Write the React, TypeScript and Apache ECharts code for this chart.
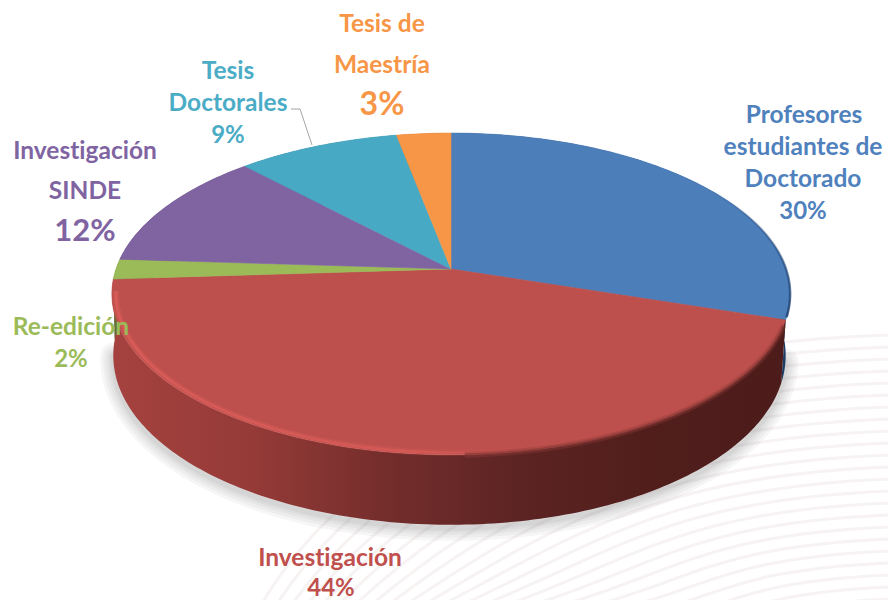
import React, { useEffect, useRef } from "react";
import * as echarts from "echarts";

const sliceNames = ["Profesores estudiantes de Doctorado", "Investigación", "Re-edición", "Investigación SINDE", "Tesis Doctorales", "Tesis de Maestría"];
const sliceValues = [30, 44, 2, 12, 9, 3];
const topColors = ["#4c7eba", "#bd4f4c", "#9bbb59", "#8064a2", "#48a9c5", "#f79646"];
const textColors = ["#4f81bd", "#c0504d", "#9bbb59", "#8064a2", "#4bacc6", "#f79646"];
const sideColors = ["#1d3d66", "#5a2120", "#5e7335", "#4d3c62", "#2d687a", "#96591f"];

// label lines and their look (centre x, middle y, size), one list per slice
const labelLayout = [
  [["Profesores", 804, 113, 24.5], ["estudiantes de", 803, 145, 24.5], ["Doctorado", 803, 177, 24.5], ["30%", 803, 209, 24]],
  [["Investigación", 330, 556, 24.5], ["44%", 331, 586, 24]],
  [["Re-edición", 71, 325, 24.5], ["2%", 71, 357, 24]],
  [["Investigación", 85, 149, 24.5], ["SINDE", 85, 189, 24.5], ["12%", 85, 229, 31]],
  [["Tesis", 228, 69, 24.5], ["Doctorales", 228, 101, 24.5], ["9%", 228, 133, 24]],
  [["Tesis de", 382, 22, 24.5], ["Maestría", 382, 63, 24.5], ["3%", 382, 102, 32]],
];

const total = sliceValues.reduce((a, b) => a + b, 0);
let running = 0;
const sliceRows = sliceValues.map((v) => {
  const row = [running, running + v];
  running += v;
  return row;
});

const CX = 451, CY = 269, AX = 335, AY = 157, P = 0.155;
const rimPoint = (deg: number, drop = false, inset = 0): number[] => {
  const t = (deg * Math.PI) / 180;
  const u = Math.sin(t), v = Math.cos(t);
  const w = 1 + P * v;
  const k = 1 - inset;
  const x = CX + (AX * k * u) / w;
  const y = CY - (AY * k * v) / w;
  if (!drop) return [x, y];
  const squeeze = x > CX ? 0.987 : 0.996;
  return [CX + (x - CX) * squeeze, y + (v < 0 ? 60 - 10 * v : 60)];
};
const arc = (a: number, b: number, drop = false, inset = 0) => {
  const pts: number[][] = [];
  const n = Math.max(2, Math.ceil(Math.abs(b - a)));
  for (let i = 0; i <= n; i++) pts.push(rimPoint(a + ((b - a) * i) / n, drop, inset));
  return pts;
};
const toDeg = (x: number) => (x / total) * 360;

const renderShadow = () => ({
  type: "group",
  children: [26, 20, 14, 9, 5].map((lw) => ({
    type: "polyline",
    shape: { points: arc(100, 262, true).map((p) => [p[0], p[1] + 3]) },
    style: { fill: "none", stroke: "rgba(90,90,90,0.055)", lineWidth: lw, lineCap: "round" },
  })),
});

const renderSide = (params: any, api: any) => {
  const a = toDeg(api.value(0)), b = toDeg(api.value(1));
  const i = params.dataIndex;
  const fill =
    i === 1
      ? new echarts.graphic.LinearGradient(0, 0, 1, 0, [
          { offset: 0, color: "#a5423f" },
          { offset: 0.2, color: "#963b38" },
          { offset: 0.4, color: "#752e2c" },
          { offset: 0.6, color: "#5c2423" },
          { offset: 0.8, color: "#511e1c" },
          { offset: 1, color: "#4c1c1a" },
        ])
      : sideColors[i];
  return {
    type: "polygon",
    shape: { points: [...arc(a, b), ...arc(b, a, true)] },
    style: { fill },
  };
};

const renderTop = (params: any, api: any) => {
  const a = toDeg(api.value(0)), b = toDeg(api.value(1));
  const i = params.dataIndex;
  return {
    type: "polygon",
    shape: { points: [[CX, CY], ...arc(a, b)] },
    style: { fill: topColors[i], stroke: topColors[i], lineWidth: 0.6 },
  };
};

const softLine = (points: number[][], stroke: any, lineWidth: number) => ({
  type: "polyline",
  shape: { points },
  style: { fill: "none", lineWidth, stroke },
});

const renderRim = (params: any) => {
  if (params.dataIndex === 0) {
    const fade = (alpha: number) =>
      new echarts.graphic.LinearGradient(0, 0, 1, 0, [
        { offset: 0, color: `rgba(226,96,92,${alpha})` },
        { offset: 0.75, color: `rgba(226,96,92,${alpha * 0.8})` },
        { offset: 1, color: "rgba(226,96,92,0)" },
      ]);
    return {
      type: "group",
      children: [
        softLine(arc(262, 170, false, 0.012), fade(0.3), 6),
        softLine(arc(262, 170, false, 0.012), fade(0.6), 2.5),
      ],
    };
  }
  if (params.dataIndex === 1) {
    return {
      type: "group",
      children: [
        softLine(arc(110, 178), "rgba(150,62,59,0.35)", 6),
        softLine(arc(110, 178), "rgba(125,50,48,0.55)", 2.5),
      ],
    };
  }
  const dark = new echarts.graphic.LinearGradient(0, 0, 0, 1, [
    { offset: 0, color: "rgba(32,66,112,0)" },
    { offset: 0.6, color: "rgba(32,66,112,0.55)" },
    { offset: 1, color: "rgba(32,66,112,0.85)" },
  ]);
  return softLine(arc(55, 107), dark, 2.5);
};

const renderLabels = (params: any) => {
  const i = params.dataIndex;
  return {
    type: "group",
    children: labelLayout[i].map((l: any) => ({
      type: "text",
      style: {
        text: l[0],
        x: l[1],
        y: l[2],
        align: "center",
        verticalAlign: "middle",
        fill: textColors[i],
        font: `bold ${l[3]}px Lato, sans-serif`,
      },
    })),
  };
};

const waveLines = Array.from({ length: 25 }, (_, k) => ({
  type: "bezierCurve",
  z: 0,
  silent: true,
  shape: {
    x1: 250 + 14 * k,
    y1: 625,
    cpx1: 350 + 20 * k,
    cpy1: 430 + 10 * k,
    cpx2: 600 + 4 * k,
    cpy2: 345 + 12 * k,
    x2: 888,
    y2: 335 + 12 * k,
  },
  style: { fill: "none", stroke: "#f7f3f3", lineWidth: 3 },
}));

export default function App() {
  const ref = useRef<HTMLDivElement>(null);
  useEffect(() => {
    const chart = echarts.init(ref.current!, null, { renderer: "svg" });
    chart.setOption({
      animation: false,
      backgroundColor: "#ffffff",
      graphic: { elements: [...waveLines] },
      series: [
        { type: "custom", coordinateSystem: "none", z: 2, data: [[0]], renderItem: renderShadow, silent: true },
        { type: "custom", coordinateSystem: "none", z: 3, data: sliceRows, renderItem: renderSide, silent: true },
        { type: "custom", coordinateSystem: "none", z: 4, data: sliceRows, renderItem: renderTop, silent: true },
        { type: "custom", coordinateSystem: "none", z: 5, data: [[0], [1], [2]], renderItem: renderRim, silent: true },
        {
          type: "custom",
          coordinateSystem: "none",
          z: 6,
          data: [[0]],
          silent: true,
          renderItem: () => ({
            type: "polyline",
            shape: { points: [[291, 109], [300, 109], [312, 145]] },
            style: { fill: "none", stroke: "#a6a6a6", lineWidth: 1 },
          }),
        },
        {
          type: "custom",
          coordinateSystem: "none",
          z: 7,
          name: "labels",
          data: sliceNames.map((n, i) => ({ name: n, value: [sliceValues[i]] })),
          renderItem: renderLabels,
          silent: true,
        },
      ],
    });
    return () => chart.dispose();
  }, []);
  return (
    <>
      <style>{"svg text{font-variant-ligatures:none !important}"}</style>
      <div ref={ref} style={{ position: "absolute", left: 0, top: 0, width: 888, height: 600 }} />
    </>
  );
}
